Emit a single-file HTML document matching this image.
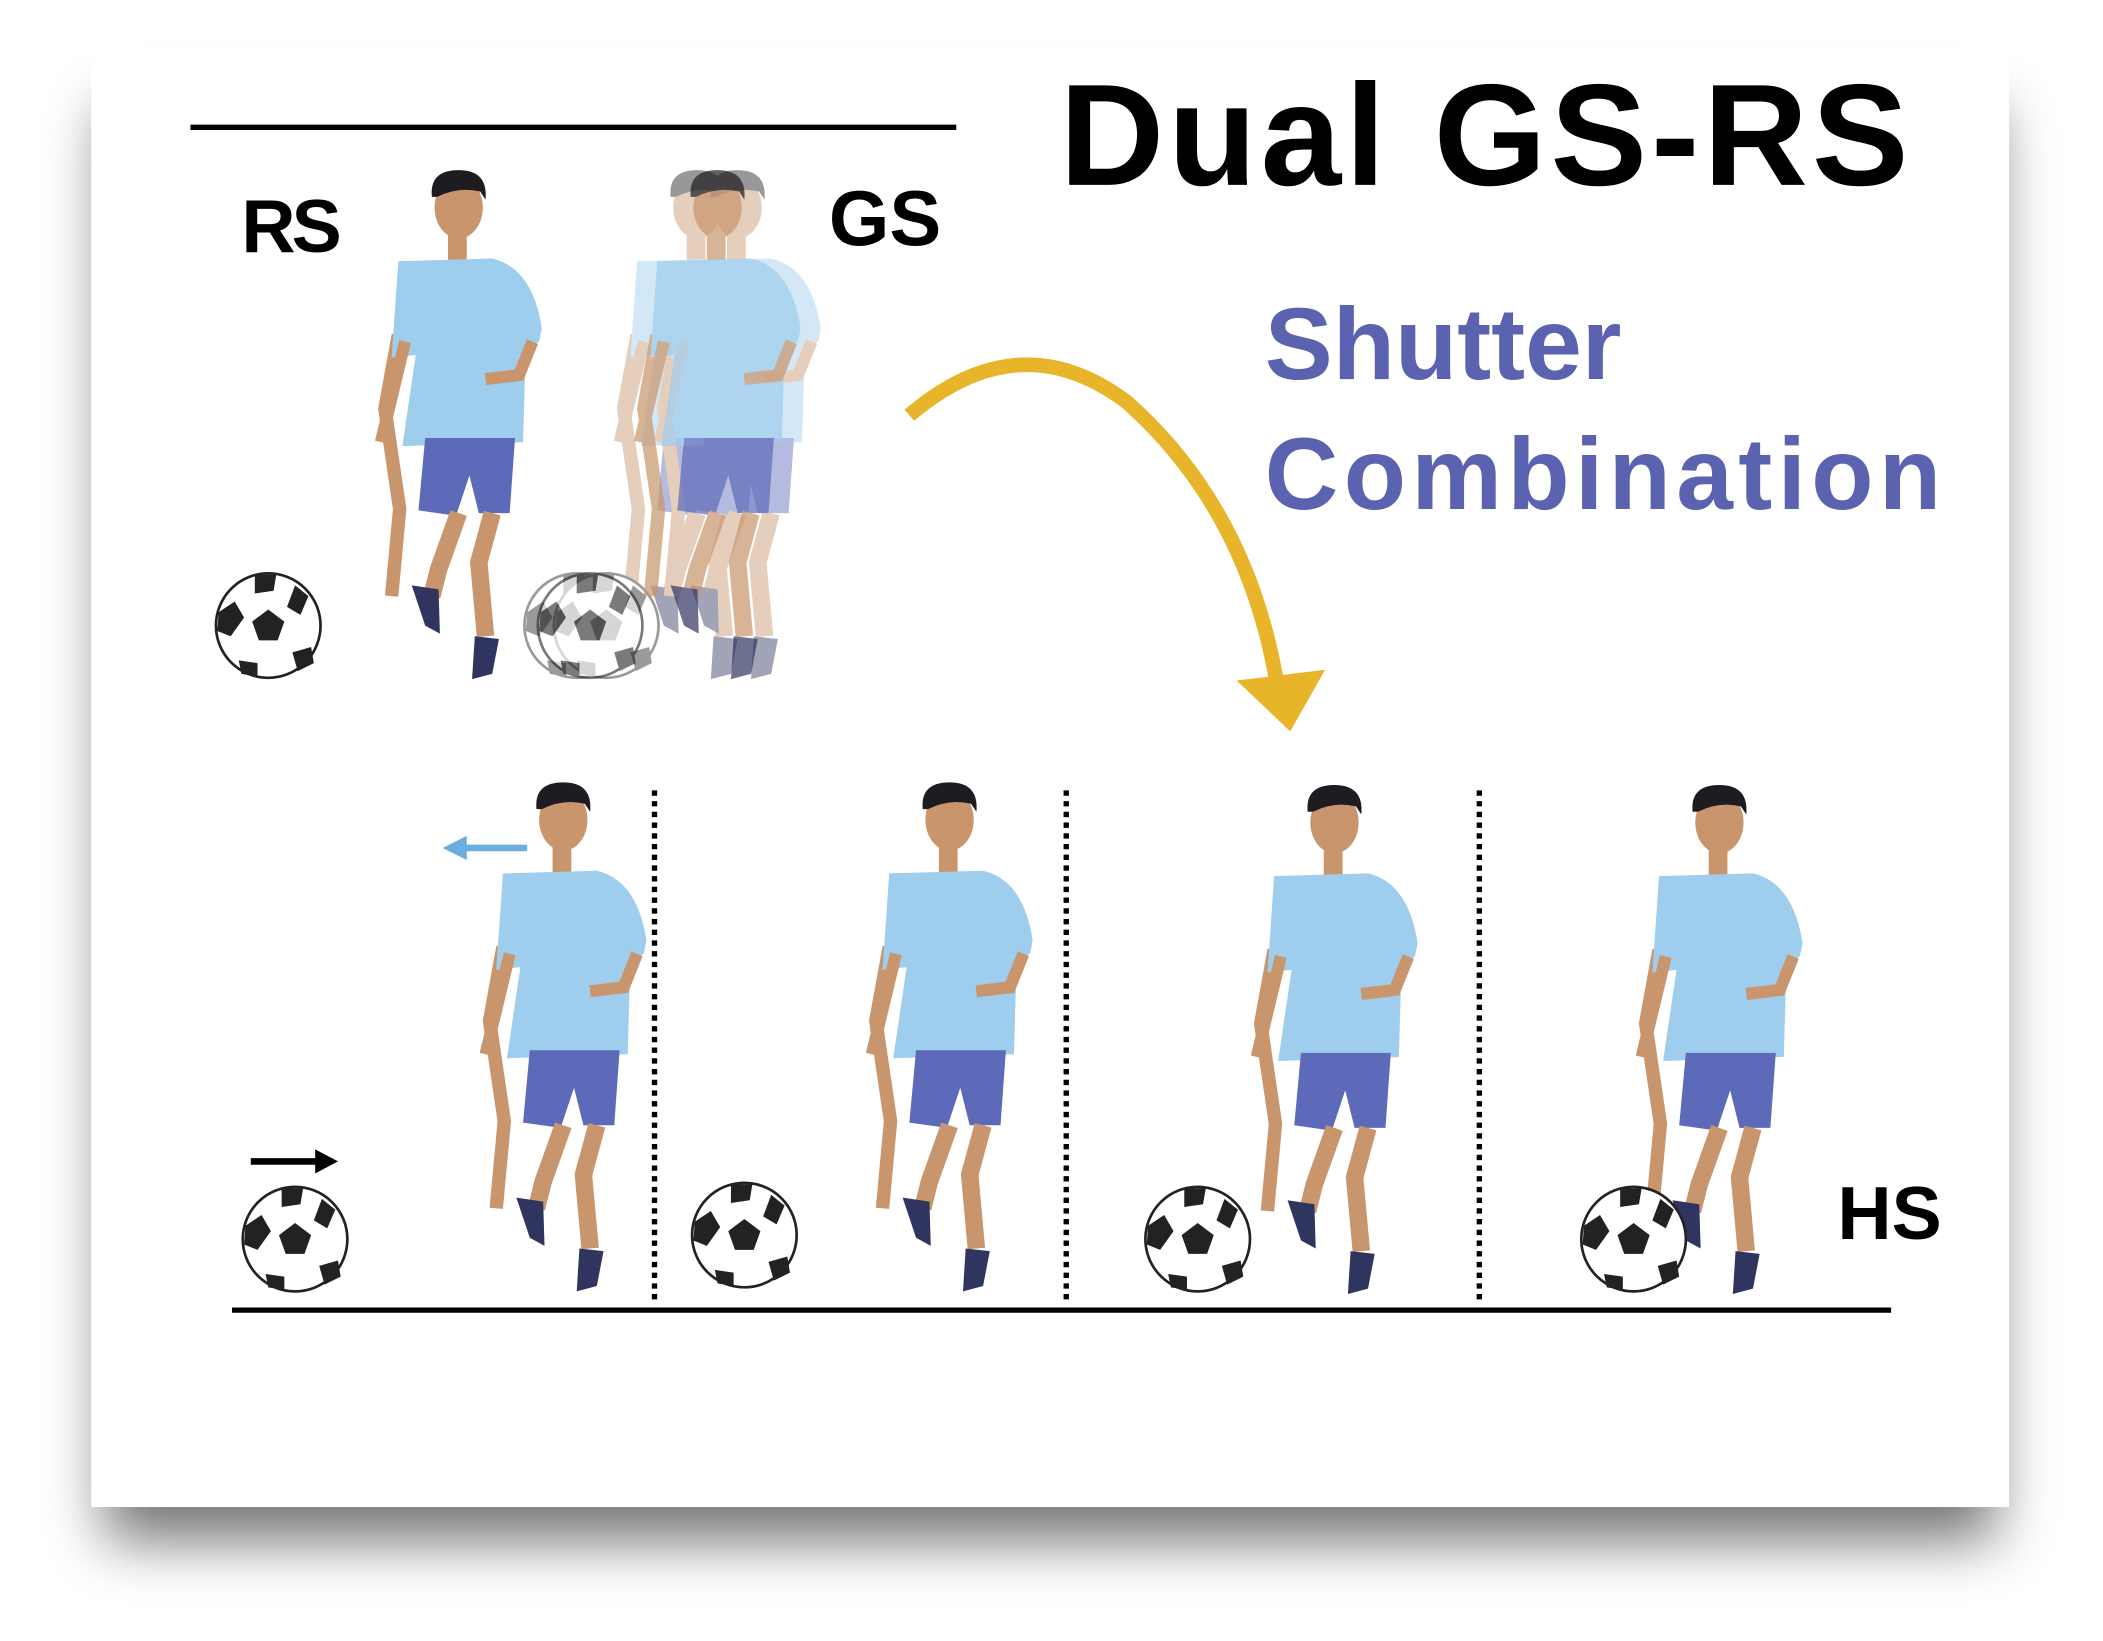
<!DOCTYPE html>
<html><head><meta charset="utf-8"><style>
html,body{margin:0;padding:0;background:#fff;}
svg{display:block}
</style></head><body>
<svg width="2103" height="1641" viewBox="0 0 1568 1225" preserveAspectRatio="none" xmlns="http://www.w3.org/2000/svg">
<defs>
<filter id="sh" x="-10%" y="-10%" width="120%" height="130%">
<feGaussianBlur stdDeviation="22"/>
</filter>
<g id="p">
<ellipse cx="0" cy="0" rx="18" ry="23" fill="#c8956c"/>
<path d="M-20,-8 Q-22,-28 0,-28 Q22,-28 20,-6 L16,-12 Q0,-16 -16,-8 Z" fill="#1e1c20"/>
<rect x="-8" y="18" width="14" height="22" fill="#c8956c"/>
<path d="M-50,290 L-44,225 L-55,150 L-45,95" stroke="#c8956c" stroke-width="10" fill="none"/>
<path d="M-45,40 L25,38 Q55,45 62,90 L60,100 L50,105 L48,175 L-42,178 L-32,110 L-50,112 Z" fill="#9fcdee"/>
<path d="M55,100 L45,125 L20,128" stroke="#c8956c" stroke-width="9" fill="none"/>
<path d="M-40,100 L-52,150 L-58,175" stroke="#c8956c" stroke-width="9" fill="none"/>
<path d="M-25,172 L42,172 L38,228 L15,228 L8,200 L-2,230 L-30,226 Z" fill="#5d6ab9"/>
<path d="M0,228 L-15,270 L-20,290 M25,228 L15,265 L20,320" stroke="#c8956c" stroke-width="13" fill="none"/>
<path d="M-35,282 L-15,285 L-14,318 L-25,312 Z" fill="#303560"/>
<path d="M12,320 L30,322 L25,348 L10,352 Z" fill="#303560"/>
</g>
<g id="b">
<circle cx="0" cy="0" r="39" fill="#fff" stroke="#222" stroke-width="2"/>
<polygon points="0,-12 12,-3 7,11 -7,11 -12,-3" fill="#222"/>
<path d="M-37,-10 L-25,-18 L-18,-6 L-28,8 L-38,4Z M20,-30 L30,-22 L24,-8 L14,-14Z M-10,-38 L6,-38 L4,-26 L-10,-24Z M18,20 L32,16 L34,28 L22,34Z M-22,26 L-8,28 L-8,38 L-20,36Z" fill="#222"/>
</g>
</defs>
<rect x="78" y="80" width="1410" height="1070" fill="#000" opacity="0.55" filter="url(#sh)"/>
<rect x="68" y="35" width="1430" height="1090" fill="#fff"/>
<line x1="142" y1="95" x2="713" y2="95" stroke="#000" stroke-width="4"/>
<text x="790" y="138" font-family="Liberation Sans, sans-serif" font-weight="bold" font-size="108" letter-spacing="3" fill="#000">Dual GS-RS</text>
<text x="180" y="188" font-family="Liberation Sans, sans-serif" font-weight="bold" font-size="56" letter-spacing="-3">RS</text>
<text x="618" y="183" font-family="Liberation Sans, sans-serif" font-weight="bold" font-size="58">GS</text>
<text x="943" y="283" font-family="Liberation Sans, sans-serif" font-weight="bold" font-size="76" fill="#5b62b0">Shutter</text>
<text x="943" y="380" font-family="Liberation Sans, sans-serif" font-weight="bold" font-size="76" letter-spacing="4" fill="#5b62b0">Combination</text>
<path d="M678,310 Q760,240 840,300 Q930,380 952,510" stroke="#e8b52a" stroke-width="11" fill="none"/>
<polygon points="922,508 988,500 962,546" fill="#e8b52a"/>
<use href="#p" x="342" y="155"/>
<use href="#b" x="200" y="467"/>
<g opacity="0.45"><use href="#p" x="520" y="155"/><use href="#p" x="550" y="155"/><use href="#b" x="430" y="467"/><use href="#b" x="452" y="467"/></g>
<use href="#p" x="535" y="155" opacity="0.7"/>
<use href="#b" x="440" y="467" opacity="0.6"/>
<line x1="173" y1="978" x2="1410" y2="978" stroke="#000" stroke-width="4"/>
<g stroke="#000" stroke-width="4" stroke-dasharray="4,4">
<line x1="488" y1="590" x2="488" y2="972"/><line x1="795" y1="590" x2="795" y2="972"/><line x1="1103" y1="590" x2="1103" y2="972"/></g>
<use href="#p" x="420" y="612"/><use href="#p" x="708" y="612"/><use href="#p" x="995" y="614"/><use href="#p" x="1282" y="614"/>
<use href="#b" x="220" y="925"/><use href="#b" x="555" y="922"/><use href="#b" x="893" y="925"/><use href="#b" x="1218" y="925"/>
<line x1="345" y1="633" x2="393" y2="633" stroke="#6aaee0" stroke-width="5"/><polygon points="330,633 348,624 348,642" fill="#6aaee0"/>
<line x1="187" y1="867" x2="238" y2="867" stroke="#000" stroke-width="5"/><polygon points="252,867 235,858 235,876" fill="#000"/>
<text x="1370" y="925" font-family="Liberation Sans, sans-serif" font-weight="bold" font-size="56">HS</text>
</svg>
</body></html>
